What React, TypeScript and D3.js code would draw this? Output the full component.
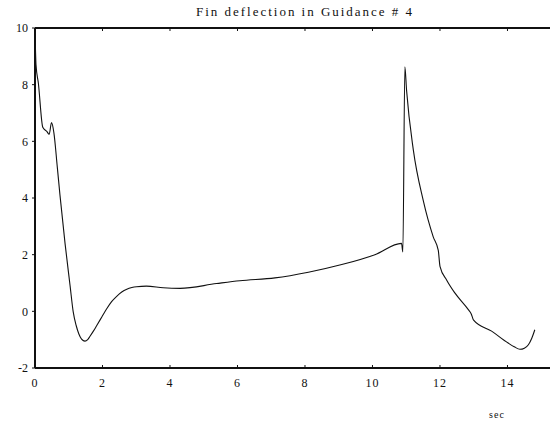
import React from "react";
import * as d3 from "d3";

const TIME = [0, 0.03, 0.1, 0.23, 0.35, 0.42, 0.49, 0.56, 0.66, 0.74, 0.89, 1.04, 1.13, 1.22, 1.3, 1.38, 1.48, 1.56, 1.63, 1.73, 1.83, 1.98, 2.12, 2.27, 2.42, 2.57, 2.72, 2.87, 3.01, 3.3, 3.8, 4.3, 5.38, 6.07, 7.11, 8.1, 9.09, 10.07, 10.86, 10.9, 10.96, 11.01, 11.21, 11.5, 11.8, 11.95, 12.0, 12.2, 12.44, 12.84, 12.93, 12.99, 13.53, 14.02, 14.2, 14.37, 14.5, 14.62, 14.72, 14.81];
const DEFLECTION = [9.95, 8.7, 8.05, 6.5, 6.35, 6.25, 6.66, 6.3, 5.1, 4.1, 2.4, 0.9, 0.0, -0.5, -0.8, -0.98, -1.05, -1.0, -0.88, -0.7, -0.5, -0.2, 0.08, 0.34, 0.53, 0.68, 0.78, 0.84, 0.87, 0.89, 0.83, 0.81, 0.98, 1.08, 1.18, 1.38, 1.65, 2.0, 2.4, 2.1, 8.63, 7.8, 5.7, 3.93, 2.63, 2.15, 1.59, 1.1, 0.65, 0.06, -0.1, -0.3, -0.7, -1.12, -1.25, -1.34, -1.3, -1.18, -0.95, -0.65];
const X_TICKS = [0, 2, 4, 6, 8, 10, 12, 14];
const Y_TICKS = [-2, 0, 2, 4, 6, 8, 10];
const TITLE = "Fin deflection in Guidance # 4";
const X_LABEL = "sec";

export default function App() {
  const x = d3.scaleLinear().domain([0, 15.26]).range([35, 550]);
  const y = d3.scaleLinear().domain([-2, 10]).range([368, 28]);
  const pts: [number, number][] = TIME.map((t, i) => [t, DEFLECTION[i]]);
  const line = d3
    .line<[number, number]>()
    .x((d) => x(d[0]))
    .y((d) => y(d[1]))
    .curve(d3.curveMonotoneX);
  const serif = "'Liberation Serif', 'DejaVu Serif', serif";
  return (
    <svg
      width={550}
      height={426}
      style={{ position: "absolute", left: 0, top: 0, background: "#fff" }}
    >
      <rect x={0} y={0} width={550} height={426} fill="#fff" />
      <text
        x={304}
        y={16}
        textAnchor="middle"
        fontFamily={serif}
        fontSize={13}
        textLength={216}
        lengthAdjust="spacing"
        fill="#111"
      >
        {TITLE}
      </text>
      <line x1={x(0)} x2={550} y1={y(10)} y2={y(10)} stroke="#111" strokeWidth={2} />
      <line x1={x(0)} x2={550} y1={y(-2)} y2={y(-2)} stroke="#111" strokeWidth={2} />
      <line x1={x(0)} x2={x(0)} y1={y(10)} y2={y(-2)} stroke="#111" strokeWidth={2} />
      {X_TICKS.map((t) => (
        <g key={"x" + t}>
          <line x1={x(t)} x2={x(t)} y1={y(-2)} y2={y(-2) - 3} stroke="#111" strokeWidth={1} />
          <line x1={x(t)} x2={x(t)} y1={y(10)} y2={y(10) + 3} stroke="#111" strokeWidth={1} />
          <text
            x={x(t)}
            y={387}
            textAnchor="middle"
            fontFamily={serif}
            fontSize={12}
            letterSpacing={1}
            fill="#111"
          >
            {t}
          </text>
        </g>
      ))}
      {Y_TICKS.map((v) => (
        <g key={"y" + v}>
          <line x1={x(0) - 3} x2={x(0)} y1={y(v)} y2={y(v)} stroke="#111" strokeWidth={1} />
          <text
            x={28}
            y={y(v)}
            dy="0.35em"
            textAnchor="end"
            fontFamily={serif}
            fontSize={12}
            fill="#111"
          >
            {v}
          </text>
        </g>
      ))}
      <path d={line(pts) || ""} fill="none" stroke="#111" strokeWidth={1.1} />
      <text
        x={497}
        y={418}
        textAnchor="middle"
        fontFamily={serif}
        fontSize={10}
        letterSpacing={1}
        fill="#111"
      >
        {X_LABEL}
      </text>
    </svg>
  );
}
